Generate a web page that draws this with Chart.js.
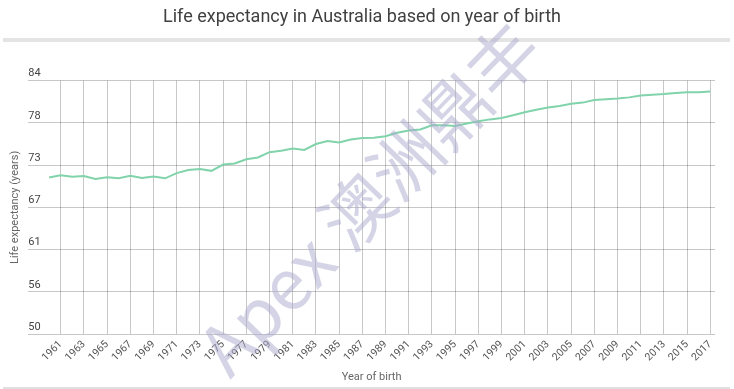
<!DOCTYPE html>
<html>
<head>
<meta charset="utf-8">
<script src="https://cdn.jsdelivr.net/npm/chart.js@4.4.1/dist/chart.umd.min.js"></script>
<style>
  html, body { margin: 0; padding: 0; background: #fff; }
  #wrap { width: 734px; height: 389px; }
</style>
</head>
<body>
<div id="wrap"><canvas id="myChart" width="734" height="389"></canvas></div>
<script>
const years = [1960, 1961, 1962, 1963, 1964, 1965, 1966, 1967, 1968, 1969,
  1970, 1971, 1972, 1973, 1974, 1975, 1976, 1977, 1978, 1979,
  1980, 1981, 1982, 1983, 1984, 1985, 1986, 1987, 1988, 1989,
  1990, 1991, 1992, 1993, 1994, 1995, 1996, 1997, 1998, 1999,
  2000, 2001, 2002, 2003, 2004, 2005, 2006, 2007, 2008, 2009,
  2010, 2011, 2012, 2013, 2014, 2015, 2016, 2017];
const lifeExpectancy = [71.0, 71.3, 71.1, 71.2, 70.8, 71.05, 70.9, 71.25, 70.95, 71.15,
  70.9, 71.6, 72.0, 72.15, 71.9, 72.75, 72.9, 73.45, 73.7, 74.4,
  74.6, 74.9, 74.7, 75.5, 75.9, 75.7, 76.1, 76.3, 76.35, 76.55,
  77.0, 77.3, 77.45, 78.0, 78.0, 77.9, 78.25, 78.55, 78.8, 79.0,
  79.35, 79.75, 80.1, 80.4, 80.6, 80.9, 81.05, 81.4, 81.5, 81.6,
  81.75, 82.0, 82.1, 82.2, 82.35, 82.45, 82.45, 82.55];
const xTickYears = [1961, 1963, 1965, 1967, 1969, 1971, 1973, 1975, 1977, 1979,
  1981, 1983, 1985, 1987, 1989, 1991, 1993, 1995, 1997, 1999,
  2001, 2003, 2005, 2007, 2009, 2011, 2013, 2015, 2017];
const yTickLabels = [50, 56, 61, 67, 73, 78, 84];
const yMin = 50, yMax = 84;

const chartTitle = 'Life expectancy in Australia based on year of birth';
const seriesName = 'Life expectancy (years)';

const gridColor = 'rgba(0,0,0,0.22)';

// grey rules under the title and at the bottom, plus the watermark
const decoPlugin = {
  id: 'deco',
  beforeDraw(chart) {
    const c = chart.ctx;
    c.save();
    c.fillStyle = '#e4e4e4';
    c.fillRect(3, 38, 727, 4);
    c.fillStyle = '#e0e0e0';
    c.fillRect(3, 387, 727, 2);
    c.restore();
  },
  afterDraw(chart) {
    const c = chart.ctx;
    c.save();
    c.translate(369, 198);
    c.rotate(-46 * Math.PI / 180);
    c.font = '70px "Noto Sans CJK SC", Roboto, sans-serif';
    c.fillStyle = 'rgba(170,170,205,0.5)';
    c.textAlign = 'center';
    c.textBaseline = 'middle';
    c.fillText('Apex 澳洲鼎丰', 0, 0);
    c.restore();
  }
};

const options = {
  type: 'line',
  data: {
    datasets: [{
      label: seriesName,
      data: years.map((yr, i) => ({ x: yr, y: lifeExpectancy[i] })),
      borderColor: '#80d3aa',
      borderWidth: 2,
      pointRadius: 0,
      tension: 0,
      fill: false
    }]
  },
  options: {
    responsive: false,
    animation: false,
    layout: { padding: { left: 9, right: 19, top: 0, bottom: 5 } },
    plugins: {
      legend: { display: false },
      tooltip: { enabled: false },
      title: {
        display: true,
        text: chartTitle,
        color: '#3f3f3f',
        font: { family: 'Roboto', size: 18, weight: 'normal' },
        padding: { top: 7, bottom: 52 }
      }
    },
    scales: {
      x: {
        type: 'linear',
        min: 1958.2,
        max: 2017.4,
        afterBuildTicks: (scale) => {
          scale.ticks = xTickYears.map(v => ({ value: v }));
        },
        grid: { color: gridColor, drawTicks: false },
        border: { display: false },
        ticks: {
          autoSkip: false,
          maxRotation: 45,
          minRotation: 45,
          padding: 4,
          color: '#555',
          font: { family: 'Roboto', size: 10.5 },
          callback: (v) => String(v)
        },
        title: {
          display: true,
          text: 'Year of birth',
          color: '#666',
          font: { family: 'Roboto', size: 11 },
          padding: { top: 3, bottom: 0 }
        }
      },
      y: {
        min: yMin,
        max: yMax,
        afterBuildTicks: (scale) => {
          scale.ticks = yTickLabels.map((lab, i) => ({ value: yMin + i * (yMax - yMin) / (yTickLabels.length - 1) }));
        },
        grid: { color: gridColor, drawTicks: false },
        border: { display: false },
        ticks: {
          mirror: true,
          padding: 0,
          labelOffset: -7,
          color: '#444',
          font: { family: 'Roboto', size: 11 },
          callback: (v, i) => String(yTickLabels[i])
        },
        title: {
          display: true,
          text: seriesName,
          color: '#666',
          font: { family: 'Roboto', size: 11 },
          padding: { top: 0, bottom: 6 }
        }
      }
    }
  },
  plugins: [decoPlugin]
};

const ctx = document.getElementById('myChart').getContext('2d');
new Chart(ctx, options);
</script>
</body>
</html>
